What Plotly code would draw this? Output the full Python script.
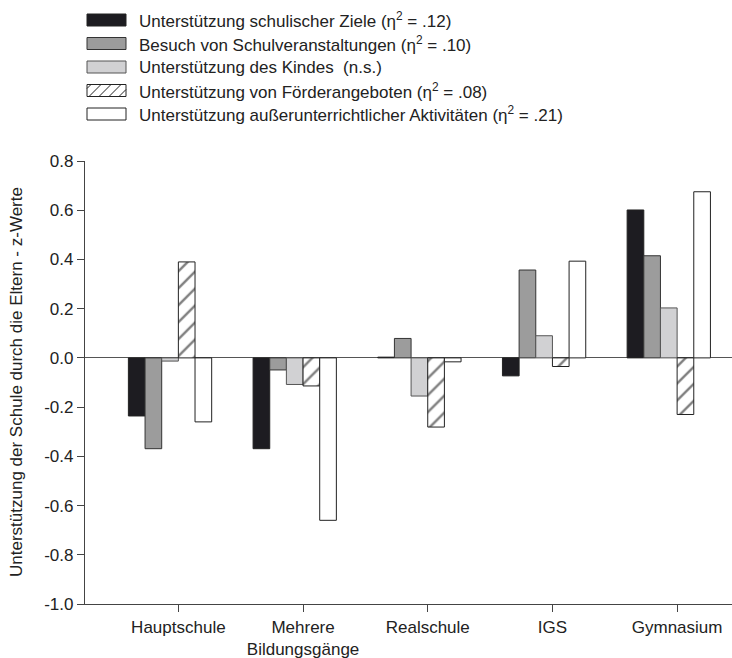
import plotly.graph_objects as go

# ---------------- data ----------------
categories = ["Hauptschule", "Mehrere<br>Bildungsgänge", "Realschule", "IGS", "Gymnasium"]
series_names = [
    "Unterstützung schulischer Ziele (η<sup>2</sup> = .12)",
    "Besuch von Schulveranstaltungen (η<sup>2</sup> = .10)",
    "Unterstützung des Kindes  (n.s.)",
    "Unterstützung von Förderangeboten (η<sup>2</sup> = .08)",
    "Unterstützung außerunterrichtlicher Aktivitäten (η<sup>2</sup> = .21)",
]
schulische_ziele = [-0.236, -0.369, 0.003, -0.073, 0.601]
schulveranstaltungen = [-0.369, -0.049, 0.079, 0.357, 0.415]
kind = [-0.013, -0.108, -0.155, 0.090, 0.203]
foerderangebote = [0.390, -0.114, -0.281, -0.035, -0.230]
ausserunterricht = [-0.260, -0.660, -0.016, 0.393, 0.675]
ytick_vals = [-1.0, -0.8, -0.6, -0.4, -0.2, 0.0, 0.2, 0.4, 0.6, 0.8]
ytick_text = ["%.1f" % v for v in ytick_vals]
y_title = "Unterstützung der Schule durch die Eltern - z-Werte"

values = [schulische_ziele, schulveranstaltungen, kind, foerderangebote, ausserunterricht]

# ---------------- styles ----------------
FONT = "Liberation Sans, Arial, sans-serif"
TXT = "#222222"
fills = ["#1d1c21", "#9c9c9c", "#d1d1d3", "white", "white"]
outlines = ["#222222", "#333333", "#555555", "#222222", "#222222"]

W, H = 732, 658
L, R, T, B = 85, 0, 161, 54
pw, ph = W - L - R, H - T - B

x_pos = list(range(len(categories)))
bargap = 0.332
bar_w = (1 - bargap) / 5
tick_pos = [x + bar_w / 2 for x in x_pos]

fig = go.Figure()
for k in range(5):
    marker = dict(color=fills[k], line=dict(color=outlines[k], width=1))
    if k == 3:
        marker["pattern"] = dict(shape="/", fgcolor="#000000", bgcolor="white",
                                 size=12, solidity=0.2)
    fig.add_trace(go.Bar(x=x_pos, y=values[k], name=series_names[k],
                         marker=marker, showlegend=False))

fig.update_layout(
    width=W, height=H,
    margin=dict(l=L, r=R, t=T, b=B),
    paper_bgcolor="white", plot_bgcolor="white",
    barmode="group", bargap=bargap, bargroupgap=0,
    font=dict(family=FONT, size=17, color=TXT),
    xaxis=dict(
        range=[-0.682, 4.507], tickvals=tick_pos, ticktext=categories,
        showline=True, linecolor="#444444", linewidth=1.3,
        ticks="outside", ticklen=7, tickcolor="#444444", tickwidth=1.2,
        showgrid=False, zeroline=False,
        tickfont=dict(family=FONT, size=17, color=TXT),
    ),
    yaxis=dict(
        range=[-1.0, 0.8], tickvals=ytick_vals, ticktext=ytick_text,
        showline=True, linecolor="#444444", linewidth=1.3,
        ticks="outside", ticklen=7, tickcolor="#444444", tickwidth=1.2,
        showgrid=False, zeroline=True, zerolinecolor="#555555", zerolinewidth=1,
        tickfont=dict(family=FONT, size=17, color=TXT),
    ),
)

def px_x(px):
    return (px - L) / pw

def px_y(py):
    return (H - B - py) / ph

# y-axis title
fig.add_annotation(text=y_title, textangle=-90, xref="paper", yref="paper",
                   x=px_x(16), y=px_y(382), xanchor="center", yanchor="middle",
                   showarrow=False, font=dict(family=FONT, size=17, color=TXT))

# manual legend
row_y = [20, 43.5, 67, 90.5, 114]
sx0, sx1, sh = 87, 126, 12
shapes = []
for k in range(5):
    cy = row_y[k]
    y0, y1 = cy - sh / 2, cy + sh / 2
    shapes.append(dict(type="rect", xref="paper", yref="paper",
                       x0=px_x(sx0), x1=px_x(sx1), y0=px_y(y1), y1=px_y(y0),
                       fillcolor=fills[k], line=dict(color=outlines[k], width=1)))
    if k == 3:
        # diagonal hatch lines clipped to swatch
        step = 10
        for s in range(-1, 5):
            xa = sx0 + 2 + s * step          # bottom start
            xb = xa + sh                     # top end
            ya, yb = y1, y0
            if xa < sx0:
                ya = y1 - (sx0 - xa)
                xa = sx0
            if xb > sx1:
                yb = y0 + (xb - sx1)
                xb = sx1
            if xb - xa > 0.5:
                shapes.append(dict(type="line", xref="paper", yref="paper",
                                   x0=px_x(xa), y0=px_y(ya), x1=px_x(xb), y1=px_y(yb),
                                   line=dict(color="#222222", width=1)))
    fig.add_annotation(text=series_names[k], xref="paper", yref="paper",
                       x=px_x(137), y=px_y(cy), xanchor="left", yanchor="middle",
                       showarrow=False, font=dict(family=FONT, size=17, color=TXT))
fig.update_layout(shapes=shapes)

fig.write_html("out.html")
